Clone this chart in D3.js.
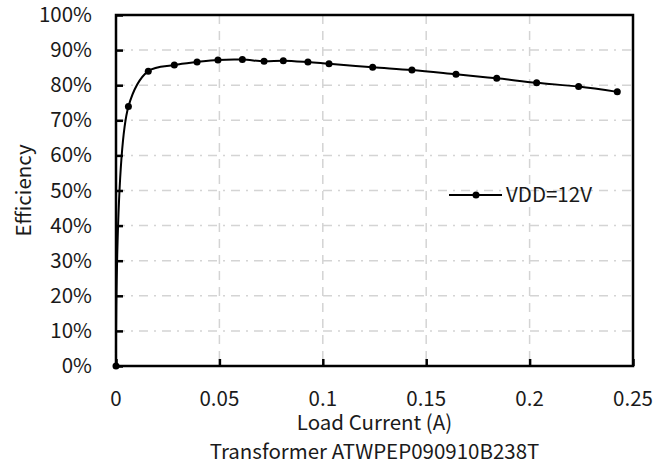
<!DOCTYPE html>
<html>
<head>
<meta charset="utf-8">
<script src="https://cdn.jsdelivr.net/npm/d3@7"></script>
<style>
    body { margin: 0; background: #fff; }
    text { font-family: "Noto Sans CJK SC", "Noto Sans", sans-serif; fill: #1a1a1a; font-size: 20.5px; }
</style>
</head>
<body>
<svg id="chart" width="671" height="472"></svg>
<script>
// load current (A) and efficiency (%)
var current = [0, 0.006, 0.0156, 0.0282, 0.0392, 0.0493, 0.0611, 0.0716, 0.0809, 0.0928, 0.103,
    0.1241, 0.1431, 0.1644, 0.1841, 0.2034, 0.2237, 0.2424];
var efficiency = [0, 73.9, 84.0, 85.75, 86.6, 87.2, 87.3, 86.8, 87.0, 86.6, 86.1,
    85.1, 84.3, 83.1, 81.96, 80.7, 79.6, 78.1];
var xTicks = [0, 0.05, 0.1, 0.15, 0.2, 0.25];
var xTickLabels = ['0', '0.05', '0.1', '0.15', '0.2', '0.25'];
var yTicks = [0, 10, 20, 30, 40, 50, 60, 70, 80, 90, 100];
var seriesName = 'VDD=12V';

var svg = d3.select('#chart');
var plotLeft = 116, plotRight = 633, plotTop = 15, plotBottom = 366;

var x = d3.scaleLinear().domain([0, 0.25]).range([plotLeft, plotRight]);
var y = d3.scaleLinear().domain([0, 100]).range([plotBottom, plotTop]);

// gridlines
svg.append('g').selectAll('line').data(yTicks.slice(1, -1)).enter().append('line')
    .attr('x1', plotLeft).attr('x2', plotRight)
    .attr('y1', function(d) { return y(d); }).attr('y2', function(d) { return y(d); })
    .style('stroke', '#d4d4d4').style('stroke-width', 1.5).style('stroke-dasharray', '9,6,2,6');

svg.append('g').selectAll('line').data(xTicks.slice(1, -1)).enter().append('line')
    .attr('y1', plotTop).attr('y2', plotBottom)
    .attr('x1', function(d) { return x(d); }).attr('x2', function(d) { return x(d); })
    .style('stroke', '#d4d4d4').style('stroke-width', 1.5).style('stroke-dasharray', '9,7');

// axes with inward ticks
var yAxis = svg.append('g').attr('transform', 'translate(' + plotLeft + ',0)')
    .call(d3.axisRight(y).tickValues(yTicks).tickSize(7).tickFormat(''));
var xAxis = svg.append('g').attr('transform', 'translate(0,' + plotBottom + ')')
    .call(d3.axisTop(x).tickValues(xTicks).tickSize(7).tickFormat(''));
[yAxis, xAxis].forEach(function(a) {
    a.select('.domain').remove();
    a.selectAll('line').style('stroke', '#000').style('stroke-width', 2.5);
});

// plot border
svg.append('rect').attr('x', plotLeft).attr('y', plotTop)
    .attr('width', plotRight - plotLeft).attr('height', plotBottom - plotTop)
    .style('fill', 'none').style('stroke', '#000').style('stroke-width', 2.5);

// tick labels
svg.append('g').selectAll('text').data(yTicks).enter().append('text')
    .attr('x', 92).attr('y', function(d) { return y(d) + 7; })
    .attr('text-anchor', 'end')
    .text(function(d) { return d + '%'; });

svg.append('g').selectAll('text').data(xTicks).enter().append('text')
    .attr('x', function(d) { return x(d); }).attr('y', 406)
    .attr('text-anchor', 'middle')
    .text(function(d, i) { return xTickLabels[i]; });

// axis titles
svg.append('text').attr('x', (plotLeft + plotRight) / 2).attr('y', 430)
    .attr('text-anchor', 'middle').text('Load Current (A)');
svg.append('text').attr('x', (plotLeft + plotRight) / 2).attr('y', 459)
    .attr('text-anchor', 'middle').text('Transformer ATWPEP090910B238T');
svg.append('text').attr('transform', 'translate(31,' + y(50) + ') rotate(-90)')
    .attr('text-anchor', 'middle').text('Efficiency');

// series
var points = current.map(function(c, i) { return [c, efficiency[i]]; });
var line = d3.line()
    .x(function(d) { return x(d[0]); })
    .y(function(d) { return y(d[1]); })
    .curve(d3.curveCatmullRom.alpha(0.5));

svg.append('path').datum(points).attr('d', line)
    .style('fill', 'none').style('stroke', '#000').style('stroke-width', 2);

svg.append('g').selectAll('circle').data(points).enter().append('circle')
    .attr('cx', function(d) { return x(d[0]); }).attr('cy', function(d) { return y(d[1]); })
    .attr('r', 3.5).style('fill', '#000');

// legend
var legend = svg.append('g').attr('transform', 'translate(449,195)');
legend.append('line').attr('x1', 0).attr('x2', 53).attr('y1', 0).attr('y2', 0)
    .style('stroke', '#000').style('stroke-width', 2);
legend.append('circle').attr('cx', 27).attr('cy', 0).attr('r', 3.5).style('fill', '#000');
legend.append('text').attr('x', 57).attr('y', 7).text(seriesName);
</script>
</body>
</html>
